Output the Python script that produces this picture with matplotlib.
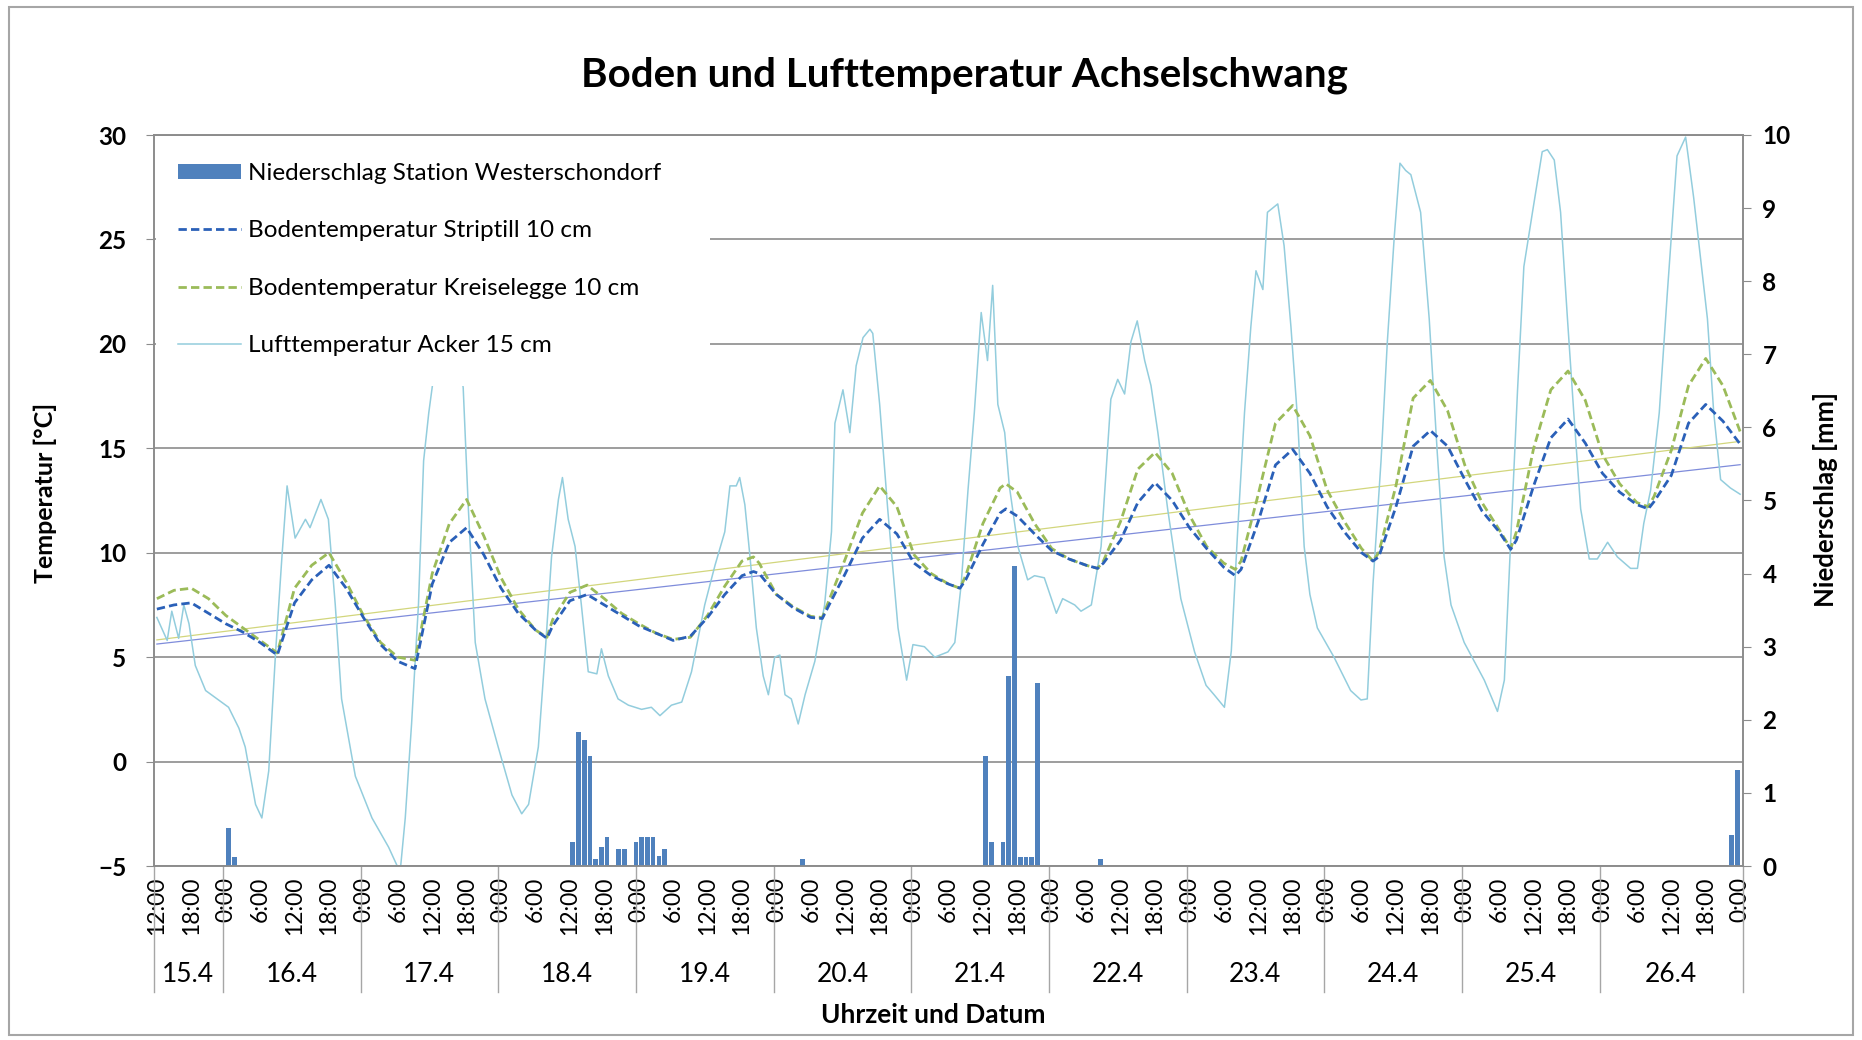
import numpy as np
import matplotlib.pyplot as plt
from matplotlib.patches import Rectangle, Patch
from matplotlib.lines import Line2D

plt.rcParams['font.family'] = ['Lato', 'DejaVu Sans']

# time axis: hours counted from 15.4 0:00
day_names = ['15.4', '16.4', '17.4', '18.4', '19.4', '20.4',
             '21.4', '22.4', '23.4', '24.4', '25.4', '26.4']
tick_hours = list(range(12, 289, 6))

soil_hours = [12, 15, 18, 21, 24, 27, 30, 33, 36, 39,
              42, 45, 48, 51, 54, 57, 60, 63, 66, 69,
              72, 75, 78, 80, 81, 84, 87, 90, 93, 96,
              99, 102, 105, 108, 111, 114, 116, 117, 120, 123,
              126, 128, 129, 132, 135, 138, 141, 144, 147, 150,
              152, 153, 156, 159, 160, 162, 165, 168, 171, 174,
              176, 177, 180, 183, 186, 189, 192, 195, 198, 200,
              201, 204, 207, 210, 213, 216, 219, 222, 224, 225,
              228, 231, 234, 237, 240, 243, 246, 248, 249, 252,
              255, 258, 261, 264, 267, 270, 272, 273, 276, 279,
              282, 285, 288]
striptill = [7.3, 7.5, 7.6, 7.1, 6.6, 6.2, 5.7, 5.1, 7.6, 8.7,
             9.4, 8.3, 6.9, 5.6, 4.8, 4.45, 8.5, 10.5, 11.2, 9.9,
             8.3, 7.1, 6.3, 5.9, 6.5, 7.7, 8.0, 7.5, 7.0, 6.5,
             6.15, 5.8, 6.0, 6.9, 8.0, 8.9, 9.1, 9.0, 8.0, 7.35,
             6.9, 6.85, 7.4, 9.0, 10.7, 11.6, 10.9, 9.5, 8.9, 8.5,
             8.3, 8.7, 10.4, 11.9, 12.1, 11.75, 10.9, 10.1, 9.7, 9.4,
             9.25, 9.5, 10.6, 12.4, 13.35, 12.5, 11.2, 10.2, 9.3, 8.9,
             9.2, 11.5, 14.2, 14.95, 13.8, 12.2, 11.0, 10.0, 9.6, 9.8,
             12.2, 15.1, 15.85, 15.1, 13.5, 12.0, 11.0, 10.16, 10.6, 13.2,
             15.5, 16.4, 15.25, 13.8, 12.9, 12.3, 12.1, 12.45, 13.7, 16.2,
             17.1, 16.3, 15.2]
kreiselegge = [7.8, 8.2, 8.3, 7.8, 7.0, 6.4, 5.8, 5.2, 8.3, 9.4,
               10.0, 8.6, 7.0, 5.7, 5.0, 4.85, 9.0, 11.4, 12.55, 10.8,
               8.8, 7.3, 6.3, 5.95, 6.8, 8.1, 8.45, 7.8, 7.1, 6.6,
               6.15, 5.85, 5.95, 7.0, 8.4, 9.6, 9.8, 9.5, 8.0, 7.4,
               6.95, 6.9, 7.6, 9.7, 11.9, 13.2, 12.2, 9.9, 9.0, 8.5,
               8.3, 8.9, 11.4, 13.1, 13.3, 12.9, 11.4, 10.2, 9.7, 9.4,
               9.25, 9.6, 11.5, 14.0, 14.8, 13.8, 11.8, 10.3, 9.5, 9.2,
               9.6, 12.8, 16.2, 17.05, 15.6, 13.0, 11.5, 10.2, 9.6, 10.0,
               13.2, 17.4, 18.25, 16.8, 14.2, 12.4, 11.1, 10.2, 11.0, 15.0,
               17.8, 18.7, 17.3, 14.7, 13.3, 12.4, 12.2, 12.7, 14.9, 18.0,
               19.3, 18.0, 15.8]

air_hours = [12, 13.8, 14.6, 15.8, 16.7, 17.6, 18.7, 20.5, 24.5, 26.3,
             27.4, 29.2, 30.3, 31.5, 32.7, 33.8, 34.7, 36.1, 37.9, 38.7,
             40.6, 41.9, 43.1, 44.2, 46.6, 49.5, 52.4, 54.4, 55.3, 56.4,
             57.6, 58.5, 59.4, 61.5, 63.5, 65.4, 66.3, 67.5, 69.2, 71.5,
             73.9, 75.6, 76.8, 78.5, 79.7, 80.8, 82.0, 82.7, 83.7, 84.9,
             86.0, 87.2, 88.7, 89.5, 90.7, 92.4, 94.2, 96.5, 98.2, 99.7,
             101.7, 103.5, 105.2, 107.5, 109.3, 111.0, 111.9, 113.0, 113.6, 114.5,
             115.4, 116.5, 117.7, 118.6, 119.7, 120.6, 121.5, 122.6, 123.8, 125.0,
             126.7, 128.4, 129.6, 130.2, 131.6, 132.8, 133.9, 135.1, 136.3, 136.8,
             138.0, 139.4, 141.2, 142.7, 143.8, 145.8, 147.6, 149.9, 151.1, 152.2,
             153.4, 154.5, 155.7, 156.8, 157.7, 158.6, 159.8, 160.6, 162.1, 163.8,
             165.0, 166.7, 168.8, 169.9, 172.0, 173.1, 174.9, 176.6, 178.3, 179.5,
             180.7, 181.8, 182.9, 184.2, 185.3, 186.5, 188.2, 190.5, 192.9, 194.9,
             196.3, 198.1, 199.3, 200.4, 201.6, 202.7, 203.6, 204.8, 205.6, 207.4,
             208.5, 209.7, 210.9, 212.0, 213.0, 214.3, 217.2, 220.1, 221.9, 223.0,
             224.0, 225.4, 226.5, 227.7, 228.7, 229.7, 230.6, 232.3, 233.8, 235.2,
             236.4, 237.6, 239.9, 243.4, 245.7, 246.9, 248.0, 249.2, 250.3, 251.8,
             253.5, 254.4, 255.6, 256.7, 257.9, 259.0, 260.2, 261.7, 263.1, 264.9,
             266.6, 268.9, 270.1, 271.2, 272.4, 273.9, 275.3, 277.0, 278.5, 279.9,
             282.3, 283.4, 284.6, 286.3, 288.0]
air_temp = [6.9, 5.8, 7.2, 5.9, 7.5, 6.6, 4.6, 3.4, 2.6, 1.6,
            0.7, -2.05, -2.7, -0.45, 5.25, 9.8, 13.2, 10.7, 11.6, 11.2,
            12.55, 11.6, 7.5, 3.0, -0.7, -2.7, -4.1, -5.3, -2.7, 1.8,
            7.5, 14.4, 16.7, 21.0, 21.5, 17.9, 12.1, 5.7, 3.0, 0.7,
            -1.6, -2.5, -2.05, 0.7, 5.25, 9.8, 12.55, 13.6, 11.6, 10.3,
            7.5, 4.3, 4.2, 5.4, 4.1, 3.0, 2.7, 2.5, 2.6, 2.2,
            2.7, 2.85, 4.3, 7.5, 9.4, 11.0, 13.2, 13.2, 13.6, 12.3,
            9.8, 6.4, 4.1, 3.2, 5.0, 5.1, 3.2, 3.0, 1.8, 3.2,
            4.8, 7.5, 11.0, 16.2, 17.8, 15.75, 18.95, 20.3, 20.7, 20.5,
            17.1, 12.1, 6.4, 3.9, 5.6, 5.5, 5.0, 5.25, 5.7, 8.45,
            13.0, 16.7, 21.5, 19.2, 22.8, 17.1, 15.75, 13.2, 10.3, 8.7,
            8.9, 8.8, 7.1, 7.8, 7.5, 7.2, 7.5, 10.3, 17.35, 18.3,
            17.6, 20.1, 21.1, 19.2, 18.0, 15.75, 12.1, 7.8, 5.25, 3.65,
            3.2, 2.6, 5.3, 11.0, 16.7, 20.8, 23.5, 22.6, 26.3, 26.7,
            24.7, 20.8, 16.2, 10.3, 8.0, 6.4, 5.0, 3.4, 2.95, 3.0,
            8.5, 14.4, 20.1, 25.1, 28.65, 28.3, 28.1, 26.3, 21.2, 14.8,
            9.8, 7.5, 5.7, 3.9, 2.4, 3.9, 10.5, 17.8, 23.7, 26.3,
            29.2, 29.3, 28.8, 26.3, 21.2, 16.7, 12.1, 9.7, 9.7, 10.5,
            9.8, 9.25, 9.25, 11.4, 13.0, 16.7, 22.4, 29.0, 29.9, 27.0,
            21.2, 16.7, 13.5, 13.1, 12.8]

rain_hours = [24, 25, 84, 85, 86, 87, 88, 89, 90, 92, 93, 95, 96, 97, 98,
              99, 100, 124, 156, 157, 159, 160, 161, 162, 163, 164, 165,
              176, 286, 287]
rain_mm = [0.52, 0.12, 0.33, 1.83, 1.73, 1.5, 0.1, 0.26, 0.4, 0.23, 0.23,
           0.33, 0.4, 0.4, 0.4, 0.13, 0.23, 0.1, 1.5, 0.33, 0.33, 2.6, 4.1,
           0.12, 0.12, 0.12, 2.5, 0.1, 0.42, 1.32]

labels = ['Niederschlag Station Westerschondorf',
          'Bodentemperatur Striptill 10 cm',
          'Bodentemperatur Kreiselegge 10 cm',
          'Lufttemperatur Acker 15 cm']

c_rain = '#4F81BD'
c_strip = '#2A60B8'
c_kreis = '#9BBB59'
c_air = '#93CDDD'
c_grid = '#8C8C8C'

W, H = 1862, 1040
fig = plt.figure(figsize=(W / 100, H / 100), dpi=100)
fig.patches.append(Rectangle((9 / W, 1 - 1035 / H), 1844 / W, 1028 / H,
                             transform=fig.transFigure, fill=False,
                             edgecolor='#A6A6A6', lw=1.5))

ax = fig.add_axes([154 / W, 1 - 866 / H, (1743 - 154) / W, (866 - 135) / H])
ax2 = ax.twinx()

x0, x1 = 11.5, 288.5
ax.set_xlim(x0, x1)
ax.set_ylim(-5, 30)
ax2.set_ylim(0, 10)

ax.set_axisbelow(True)
ax.yaxis.grid(True, color=c_grid, lw=1.2)
ax.set_yticks(range(-5, 31, 5))
ax2.set_yticks(range(0, 11))

# soil temperatures and their linear trends
h_soil = np.array(soil_hours, dtype=float)
for vals, col in [(kreiselegge, '#D2D67C'), (striptill, '#7F8CDB')]:
    k, d = np.polyfit(h_soil, vals, 1)
    ax.plot([soil_hours[0], soil_hours[-1]],
            [k * soil_hours[0] + d, k * soil_hours[-1] + d],
            color=col, lw=0.9, zorder=2)

ax.plot(air_hours, air_temp, color=c_air, lw=1.1, zorder=2.2)
ax.plot(soil_hours, kreiselegge, color=c_kreis, lw=2.0, dashes=(3, 1.5), zorder=2.4)
ax.plot(soil_hours, striptill, color=c_strip, lw=2.0, dashes=(3, 1.5), zorder=2.5)

ax2.bar(np.array(rain_hours) + 0.1, rain_mm, width=0.8, align='edge',
        color=c_rain, zorder=2)

# legend area (white background over plot)
ax.add_patch(Rectangle((x0 + 0.35, 18.0), 108.0 - x0, 11.7, facecolor='white',
                       edgecolor='none', zorder=4))
handles = [Patch(facecolor=c_rain, edgecolor='none'),
           Line2D([], [], color=c_strip, lw=2.0, dashes=(3, 1.5)),
           Line2D([], [], color=c_kreis, lw=2.0, dashes=(3, 1.5)),
           Line2D([], [], color=c_air, lw=1.1)]
leg = ax.legend(handles, labels, loc='upper left', bbox_to_anchor=(0.015, 0.962),
                frameon=False, fontsize=17.5, handlelength=2.6, handletextpad=0.3,
                labelspacing=1.5, borderpad=0, borderaxespad=0, handleheight=0.55)
leg.set_zorder(5)

# axes styling
for a in (ax, ax2):
    for s in a.spines.values():
        s.set_color(c_grid)
        s.set_linewidth(1.2)
ax.tick_params(axis='y', direction='out', length=6, color=c_grid, pad=14,
               labelsize=17.5)
ax2.tick_params(axis='y', direction='out', length=6, color=c_grid, pad=8,
                labelsize=17.5)
for t in ax.get_yticklabels() + ax2.get_yticklabels():
    t.set_fontweight('bold')

ax.set_xticks(tick_hours)
ax.set_xticklabels([f'{h % 24}:00' for h in tick_hours], rotation=90, fontsize=16.5)
ax.tick_params(axis='x', length=0, pad=8)

# day grouping below the time labels
xt = ax.get_xaxis_transform()
bounds = [x0] + [24 * i - 0.5 for i in range(1, 12)] + [x1]
for b in bounds:
    ax.plot([b, b], [0, -0.172], transform=xt, color='#A6A6A6', lw=1.0,
            clip_on=False)
for i, name in enumerate(day_names):
    ax.text((bounds[i] + bounds[i + 1]) / 2, -0.148, name, transform=xt,
            ha='center', va='center', fontsize=19)

fig.text(964 / W, 1 - 75 / H, 'Boden und Lufttemperatur Achselschwang',
         ha='center', va='center', fontsize=29, fontweight='bold')
fig.text(933 / W, 1 - 1015 / H, 'Uhrzeit und Datum', ha='center', va='center',
         fontsize=19, fontweight='bold')
fig.text(45 / W, 1 - 493 / H, 'Temperatur [°C]', rotation=90, ha='center',
         va='center', fontsize=18, fontweight='bold')
fig.text(1826 / W, 1 - 499 / H, 'Niederschlag [mm]', rotation=90, ha='center',
         va='center', fontsize=18.5, fontweight='bold')

fig.savefig('out.png', dpi=100, facecolor='white')
